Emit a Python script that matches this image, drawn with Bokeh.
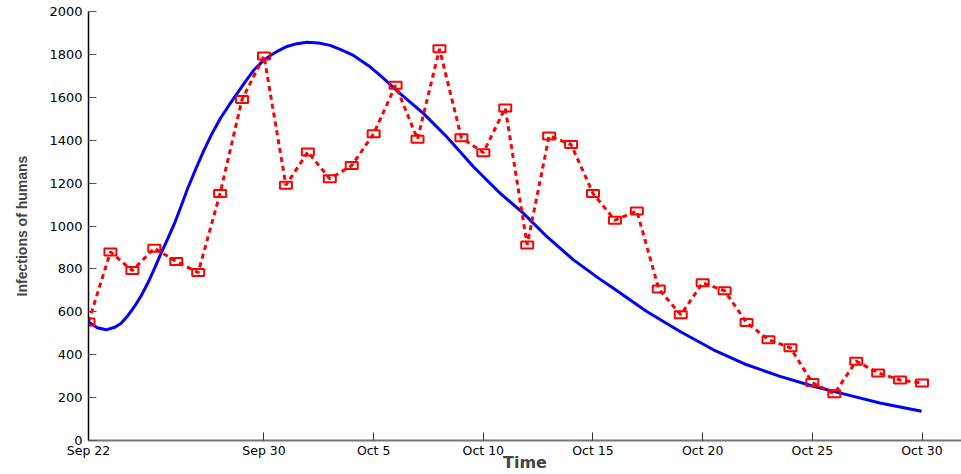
from bokeh.plotting import figure
from bokeh.models import FixedTicker, Range1d
from bokeh.embed import file_html
from bokeh.resources import INLINE

# Observed daily infections (days since Sep 22)
obs_day = list(range(0, 39))
obs_val = [553, 879, 792, 896, 835, 783, 1152, 1590, 1792, 1190,
           1345, 1220, 1282, 1430, 1656, 1405, 1826, 1412, 1342, 1550,
           912, 1420, 1380, 1152, 1027, 1070, 706, 586, 735, 698,
           550, 470, 432, 270, 218, 370, 315, 282, 268]

# Model curve
curve_day = [0, 0.4, 0.8, 1.2, 1.49, 1.8, 2.1, 2.4, 2.7, 3.0, 3.31, 3.62, 3.92,
             4.22, 4.52, 4.9, 5.25, 5.6, 6.01, 6.4, 6.77, 7.15, 7.53, 7.9, 8.29,
             8.67, 9.05, 9.5, 9.96, 10.5, 11.02, 11.5, 12.08, 12.85, 13.3, 14.21,
             15.28, 16.34, 17.55, 18.77, 19.83, 20.9, 22.11, 23.25, 23.93, 25.45,
             26.97, 28.49, 30.01, 31.53, 33.04, 34.56, 36.08, 37.98]
curve_val = [553, 526, 516, 528, 547, 583, 625, 675, 733, 800, 873, 942, 1012,
             1092, 1175, 1268, 1350, 1425, 1501, 1562, 1617, 1673, 1726, 1764, 1795,
             1818, 1837, 1850, 1857, 1853, 1842, 1822, 1795, 1741, 1702, 1617,
             1524, 1415, 1276, 1152, 1059, 950, 842, 757, 710, 601,
             508, 423, 353, 299, 253, 214, 175, 136]

tick_days = [0, 8, 13, 18, 23, 28, 33, 38]
tick_labels = ["Sep 22", "Sep 30", "Oct 5", "Oct 10", "Oct 15", "Oct 20", "Oct 25", "Oct 30"]
y_ticks = list(range(0, 2001, 200))

p = figure(width=961, height=474, output_backend="svg", toolbar_location=None,
           x_range=Range1d(0, 39.8), y_range=Range1d(0, 2000),
           min_border_left=88, min_border_top=11, min_border_right=0, min_border_bottom=0)
p.outline_line_color = None
p.xgrid.visible = False
p.ygrid.visible = False
p.background_fill_color = "white"
p.border_fill_color = "white"

p.line(curve_day, curve_val, line_color="#0000ff", line_width=3)
p.line(obs_day, obs_val, line_color="#ff0000", line_width=3, line_dash="5 4")
p.rect(obs_day, obs_val, width=12, height=7, width_units="screen", height_units="screen",
       fill_color=None, line_color="#ff0000", line_width=2)

p.xaxis.ticker = FixedTicker(ticks=tick_days)
p.xaxis.major_label_overrides = {d: l for d, l in zip(tick_days, tick_labels)}
p.yaxis.ticker = FixedTicker(ticks=y_ticks)
p.xaxis.minor_tick_line_color = None
p.yaxis.minor_tick_line_color = None
for ax in (p.xaxis, p.yaxis):
    ax.major_tick_in = 8
    ax.major_tick_out = 0
    ax.major_label_text_font = "DejaVu Sans"
    ax.major_label_text_color = "black"
p.yaxis.major_label_text_font_size = "13px"
p.xaxis.major_label_text_font_size = "12.5px"
p.yaxis.axis_line_color = "black"
p.yaxis.major_tick_line_color = "#555555"
p.xaxis.axis_line_color = "#777777"
p.xaxis.major_tick_line_color = "#333333"
p.xaxis.axis_line_width = 2
p.yaxis.axis_line_width = 1.5
p.yaxis.major_label_standoff = 6
p.xaxis.major_label_standoff = 2

p.xaxis.axis_label = "Time"
p.xaxis.axis_label_text_font = "DejaVu Sans"
p.xaxis.axis_label_text_font_style = "bold"
p.xaxis.axis_label_text_font_size = "16px"
p.xaxis.axis_label_standoff = -8
p.yaxis.axis_label = "Infections of humans"
p.yaxis.axis_label_text_font = "Liberation Sans"
p.yaxis.axis_label_text_font_style = "bold"
p.yaxis.axis_label_text_font_size = "14px"
p.yaxis.axis_label_standoff = 16

open("out.html", "w").write(file_html(p, INLINE))
